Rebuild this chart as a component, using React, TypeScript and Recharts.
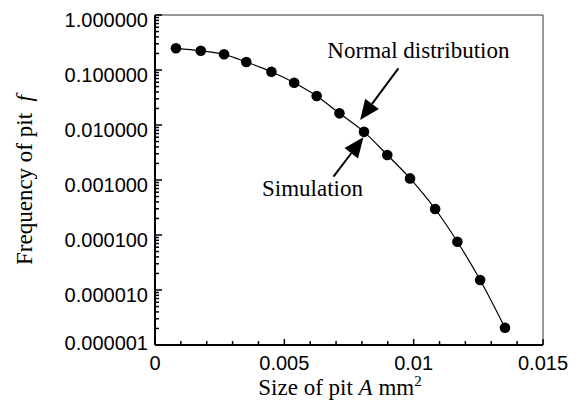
import { ComposedChart, Line, XAxis, YAxis, ReferenceLine, Label } from 'recharts';

// pit size A (mm^2) vs frequency f
const pitSize = [
  0.00081, 0.00177, 0.00267, 0.00353, 0.0045, 0.00538, 0.00625, 0.00713, 0.00808, 0.00898,
  0.00986, 0.01083, 0.01169, 0.01257, 0.01353,
];
const pitFrequency = [
  0.248, 0.224, 0.193, 0.14, 0.0931, 0.0588, 0.0337, 0.0163, 0.0075, 0.00285, 0.00107, 0.000297,
  0.0000755, 0.0000152, 0.00000206,
];

const xTicks = [
  0, 0.001, 0.002, 0.003, 0.004, 0.005, 0.006, 0.007, 0.008, 0.009, 0.01, 0.011, 0.012, 0.013,
  0.014, 0.015,
];
const xMajorTicks = [0, 0.005, 0.01, 0.015];
const xMajorLabels = ['0', '0.005', '0.01', '0.015'];

const yMajorTicks = [0.000001, 0.00001, 0.0001, 0.001, 0.01, 0.1, 1];
const yMajorLabels = ['0.000001', '0.000010', '0.000100', '0.001000', '0.010000', '0.100000', '1.000000'];
const yMinorSteps = [2, 3, 4, 5, 6, 7, 8, 9];

// arrow annotations, tail first then tip (data coords)
const normalArrow = [{ x: 0.00941, y: 0.1074 }, { x: 0.00793, y: 0.01233 }];
const simulationArrow = [{ x: 0.0069, y: 0.00115 }, { x: 0.008055, y: 0.00597 }];

const data = pitSize.map((a, i) => ({ a, f: pitFrequency[i] }));

const yTicks = [
  ...yMajorTicks,
  ...yMajorTicks.slice(0, -1).flatMap((d) => yMinorSteps.map((m) => m * d)),
].sort((p, q) => p - q);

const SERIF = "'Liberation Serif', 'Times New Roman', serif";
const SANS = "'Liberation Sans', Arial, sans-serif";

function XTick({ x, y, payload }: any) {
  const idx = xMajorTicks.indexOf(payload.value);
  return (
    <g>
      <line x1={x} y1={y} x2={x} y2={y - (idx >= 0 ? 6 : 4)} stroke="#000" strokeWidth={1.5} />
      {idx >= 0 && (
        <text x={x} y={y + 25} textAnchor="middle" fontFamily={SANS} fontSize={20} fill="#000">
          {xMajorLabels[idx]}
        </text>
      )}
    </g>
  );
}

function YTick({ x, y, payload }: any) {
  const idx = yMajorTicks.indexOf(payload.value);
  return (
    <g>
      <line x1={x} y1={y} x2={x + (idx >= 0 ? 7 : 4)} y2={y} stroke="#000" strokeWidth={1.5} />
      {idx >= 0 && (
        <text x={x - 7} y={y + (idx === 0 ? 5 : 12)} textAnchor="end" fontFamily={SANS} fontSize={20} fill="#000">
          {yMajorLabels[idx]}
        </text>
      )}
    </g>
  );
}

function arrow(text: string, dx: number, dy: number) {
  return (props: any) => {
    const { x1, y1, x2, y2 } = props;
    if (x1 == null || x2 == null) return <g />;
    const len = Math.hypot(x2 - x1, y2 - y1);
    const ux = (x2 - x1) / len;
    const uy = (y2 - y1) / len;
    const bx = x2 - ux * 20;
    const by = y2 - uy * 20;
    const px = -uy * 8.5;
    const py = ux * 8.5;
    return (
      <g>
        <line x1={x1} y1={y1} x2={bx} y2={by} stroke="#000" strokeWidth={2} />
        <polygon points={`${x2},${y2} ${bx + px},${by + py} ${bx - px},${by - py}`} fill="#000" />
        <text x={x1 + dx} y={y1 + dy} textAnchor="middle" fontFamily={SERIF} fontSize={23} fill="#000">
          {text}
        </text>
      </g>
    );
  };
}

export default function App() {
  return (
    <div style={{ position: 'absolute', left: 0, top: 0, background: '#fff' }}>
      <ComposedChart width={583} height={400} data={data} margin={{ top: 15, right: 40, bottom: 0, left: 0 }}>
        <XAxis
          dataKey="a"
          type="number"
          domain={[0, 0.015]}
          ticks={xTicks}
          interval={0}
          tick={<XTick />}
          tickSize={0}
          tickMargin={0}
          tickLine={false}
          axisLine={{ stroke: '#000', strokeWidth: 2 }}
          height={55}
          allowDataOverflow
        >
          <Label
            content={({ viewBox }: any) => (
              <text x={viewBox.x + 185} y={viewBox.y + 50} textAnchor="middle" fontFamily={SERIF} fontSize={23} fill="#000">
                Size of pit <tspan fontStyle="italic">A</tspan> mm
                <tspan fontSize={15} dy={-9}>2</tspan>
              </text>
            )}
          />
        </XAxis>
        <YAxis
          type="number"
          scale="log"
          domain={[0.000001, 1]}
          ticks={yTicks}
          interval={0}
          tick={<YTick />}
          tickSize={0}
          tickMargin={0}
          tickLine={false}
          axisLine={{ stroke: '#000', strokeWidth: 2 }}
          width={155}
          allowDataOverflow
        >
          <Label
            content={({ viewBox }: any) => {
              const cx = viewBox.x + 32;
              const cy = viewBox.y + viewBox.height / 2;
              return (
                <text
                  x={cx}
                  y={cy}
                  transform={`rotate(-90 ${cx} ${cy})`}
                  textAnchor="middle"
                  fontFamily={SERIF}
                  fontSize={23}
                  fill="#000"
                >
                  Frequency of pit <tspan fontStyle="italic">{'\u00a0f'}</tspan>
                </text>
              );
            }}
          />
        </YAxis>
        <ReferenceLine y={1} stroke="#333" strokeWidth={1} />
        <ReferenceLine x={0.015} stroke="#333" strokeWidth={1} />
        <Line
          dataKey="f"
          type="monotone"
          stroke="#000"
          strokeWidth={1.2}
          dot={{ r: 5.3, fill: '#000', stroke: '#000', strokeWidth: 0 }}
          isAnimationActive={false}
        />
        <ReferenceLine segment={normalArrow} shape={arrow('Normal distribution', 20, -10)} />
        <ReferenceLine segment={simulationArrow} shape={arrow('Simulation', -21, 19)} />
      </ComposedChart>
    </div>
  );
}
